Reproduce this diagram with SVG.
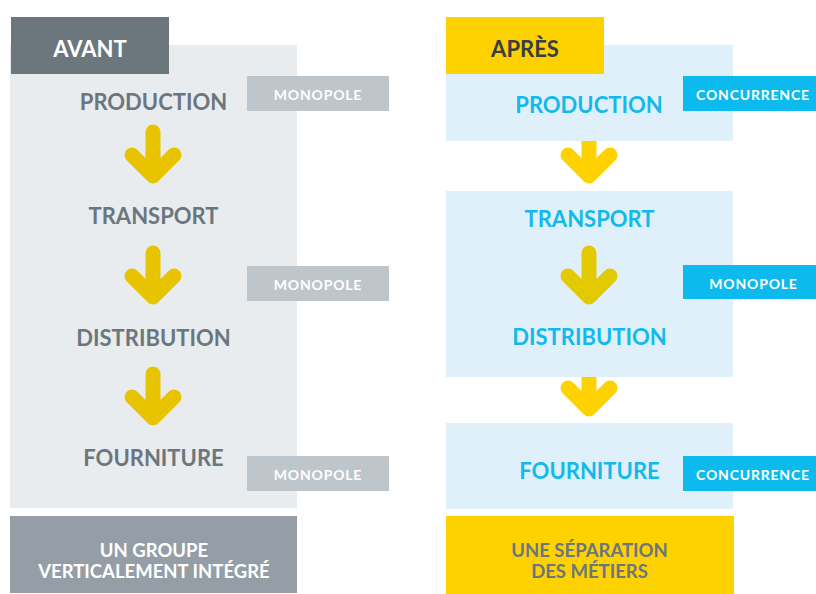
<svg xmlns="http://www.w3.org/2000/svg" width="816" height="594" viewBox="0 0 816 594">
<style>
  text { font-family: Lato, "Noto Sans", "Liberation Sans", sans-serif; font-weight: 700; text-anchor: middle; }
  .step { font-size: 22px; }
  .grey { fill: #6b767d; }
  .blue { fill: #12b9ec; }
  .tag { font-size: 14px; fill: #ffffff; letter-spacing: 0.8px; }
  .head { font-size: 22px; }
  .foot { font-size: 18.5px; }
  .arrow { fill: none; stroke-width: 15; stroke-linecap: round; stroke-linejoin: round; }
  .shaft { fill: none; stroke-width: 15; stroke-linecap: butt; }
</style>
<defs>
  <path id="arr" d="M0,-44 V0 M-21,-21 L0,0 L21,-21"/>
  <path id="head" d="M-21,-21 L0,0 L21,-21"/>
</defs>
<g id="avant">
  <rect x="10" y="45" width="287" height="463" fill="#e8ecef"/>
  <rect x="11" y="17" width="158" height="57" fill="#6b767d"/>
  <text class="head" x="90" y="57" fill="#ffffff">AVANT</text>
</g>
<g id="production-right">
  <rect x="446" y="45" width="287" height="96" fill="#e0f0fb"/>
  <text class="step blue" x="589" y="113">PRODUCTION</text>
</g>
<g id="apres">
  <rect x="446" y="17" width="158" height="57" fill="#fdd200"/>
  <text class="head" x="525" y="57" fill="#3a3e42">APRÈS</text>
</g>
<g id="transport-distribution-right">
  <rect x="446" y="191" width="287" height="186" fill="#e0f0fb"/>
  <text class="step blue" x="589.5" y="227">TRANSPORT</text>
  <text class="step blue" x="589.5" y="345">DISTRIBUTION</text>
</g>
<g id="fourniture-right">
  <rect x="446" y="423" width="287" height="86" fill="#e0f0fb"/>
  <text class="step blue" x="589.5" y="479">FOURNITURE</text>
</g>
<g id="connectors">
  <use href="#arr" class="arrow" stroke="#e8c400" transform="translate(153,176)"/>
  <use href="#arr" class="arrow" stroke="#e8c400" transform="translate(153,297)"/>
  <use href="#arr" class="arrow" stroke="#e8c400" transform="translate(153,418)"/>
  <path class="shaft" stroke="#fdd200" d="M589,141 V172"/>
  <use href="#head" class="arrow" stroke="#fdd200" transform="translate(589,176)"/>
  <use href="#arr" class="arrow" stroke="#e2c900" transform="translate(589,297)"/>
  <path class="shaft" stroke="#fdd200" d="M589,377 V405"/>
  <use href="#head" class="arrow" stroke="#fdd200" transform="translate(589,409)"/>
</g>
<g id="production-left"><text class="step grey" x="153.5" y="110">PRODUCTION</text></g>
<g id="transport-left"><text class="step grey" x="153.5" y="224">TRANSPORT</text></g>
<g id="distribution-left"><text class="step grey" x="153.5" y="346">DISTRIBUTION</text></g>
<g id="fourniture-left"><text class="step grey" x="153.5" y="466">FOURNITURE</text></g>
<g id="monopole-1"><rect x="247" y="76" width="142" height="35" fill="#bec5cb"/><text class="tag" x="318" y="100">MONOPOLE</text></g>
<g id="monopole-2"><rect x="247" y="266" width="142" height="35" fill="#bec5cb"/><text class="tag" x="318" y="290">MONOPOLE</text></g>
<g id="monopole-3"><rect x="247" y="456" width="142" height="35" fill="#bec5cb"/><text class="tag" x="318" y="480">MONOPOLE</text></g>
<g id="groupe-integre">
  <rect x="10" y="516" width="287" height="77" fill="#959ea6"/>
  <text class="foot" x="154" y="557" fill="#ffffff">UN GROUPE</text>
  <text class="foot" x="154" y="578" fill="#ffffff">VERTICALEMENT INTÉGRÉ</text>
</g>
<g id="concurrence-1"><rect x="683" y="76" width="133" height="35" fill="#0dbaee"/><text class="tag" x="753" y="100">CONCURRENCE</text></g>
<g id="monopole-right"><rect x="683" y="265" width="133" height="34" fill="#0dbaee"/><text class="tag" x="753.5" y="289">MONOPOLE</text></g>
<g id="concurrence-2"><rect x="683" y="456" width="133" height="35" fill="#0dbaee"/><text class="tag" x="753" y="480">CONCURRENCE</text></g>
<g id="separation-metiers">
  <rect x="446" y="516" width="288" height="78" fill="#fdd200"/>
  <text class="foot grey" x="589.5" y="557">UNE SÉPARATION</text>
  <text class="foot grey" x="589.5" y="578">DES MÉTIERS</text>
</g>
</svg>
